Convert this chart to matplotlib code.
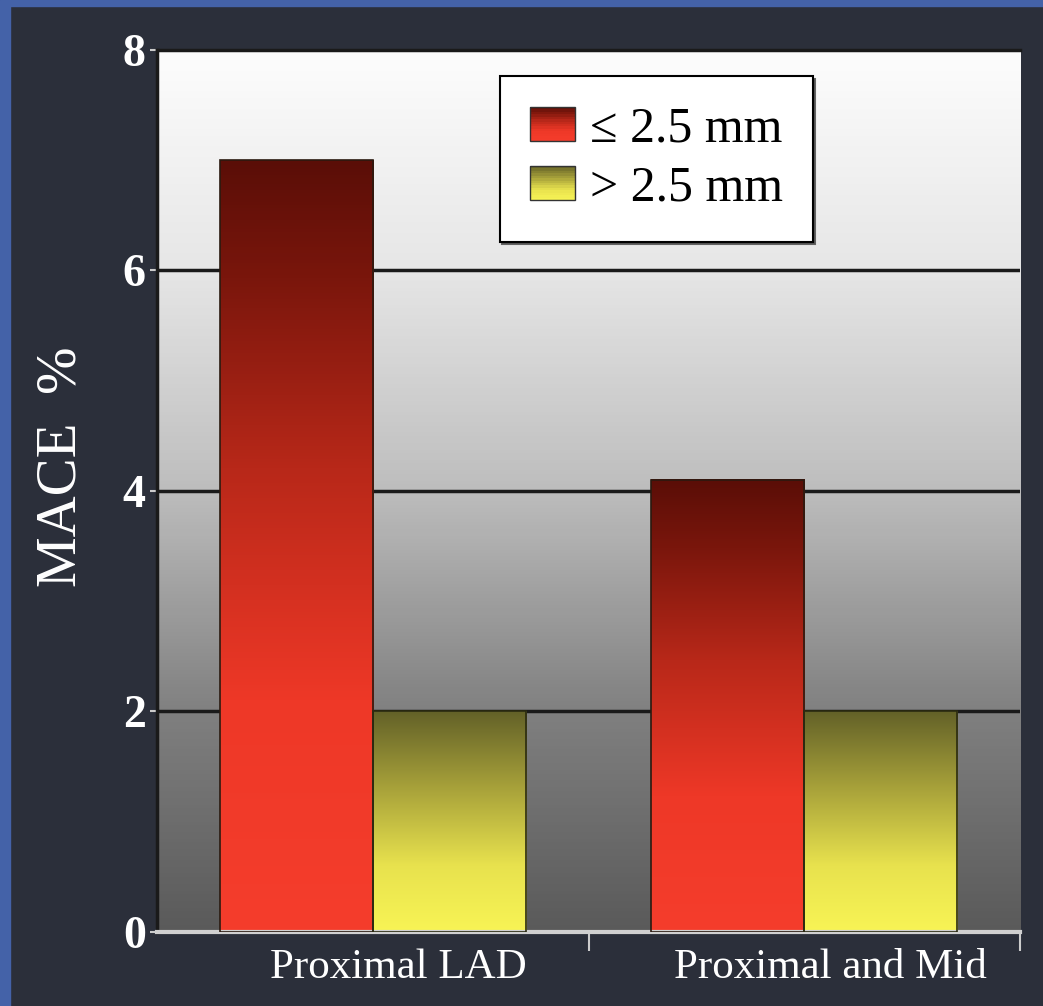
import numpy as np
import matplotlib.pyplot as plt
import matplotlib.transforms as mtransforms
from matplotlib.colors import LinearSegmentedColormap
from matplotlib.patches import Rectangle
from matplotlib.legend_handler import HandlerBase

categories = ['Proximal LAD', 'Proximal and Mid']
small_vals = [7.0, 4.1]   # <= 2.5 mm
large_vals = [2.0, 2.0]   # > 2.5 mm
series_labels = ['\u2264 2.5 mm', '> 2.5 mm']
yticks = [0, 2, 4, 6, 8]

red_cmap = LinearSegmentedColormap.from_list(
    'red', [(0, '#f53d2c'), (0.3, '#ee3827'), (0.6, '#b82819'),
            (0.85, '#7a160c'), (1, '#5a0e07')])
yel_cmap = LinearSegmentedColormap.from_list(
    'yel', [(0, '#f8f455'), (0.3, '#e8e24e'), (0.65, '#a8a23a'), (1, '#636128')])
bg_cmap = LinearSegmentedColormap.from_list(
    'bg', [(0, '#5a5a5a'), (0.25, '#808080'), (0.5, '#bdbdbd'),
           (0.75, '#e6e6e6'), (1, '#fdfdfd')])

serif = ['Liberation Serif', 'DejaVu Serif']

fig = plt.figure(figsize=(10.43, 10.06), dpi=100)
fig.patch.set_facecolor('#2b2f3a')
# blue frame strips
fig.patches.append(Rectangle((0, 0), 0.0095, 1, transform=fig.transFigure,
                             color='#4462a8', zorder=0))
fig.patches.append(Rectangle((0, 0.994), 1, 0.006, transform=fig.transFigure,
                             color='#4462a8', zorder=0))

ax = fig.add_axes([0.1505, 0.0736, 0.8275, 0.8767])
x = np.arange(len(categories))
w = 0.355

grad = np.linspace(0, 1, 256).reshape(-1, 1)
ax.imshow(grad, cmap=bg_cmap, origin='lower', aspect='auto',
          extent=[0, 1, 0, 1], transform=ax.transAxes, zorder=0)

for yv in yticks[1:-1]:
    ax.axhline(yv, color='#1a1a1a', lw=2.5, zorder=1)

b1 = ax.bar(x - w / 2, small_vals, w, facecolor='none', edgecolor='#2a1a10',
            lw=1.2, zorder=3)
b2 = ax.bar(x + w / 2, large_vals, w, facecolor='none', edgecolor='#2a2a10',
            lw=1.2, zorder=3)
for bars, cm in [(b1, red_cmap), (b2, yel_cmap)]:
    for p in bars:
        x0, h = p.get_x(), p.get_height()
        ax.imshow(grad, cmap=cm, origin='lower', aspect='auto',
                  extent=[x0, x0 + p.get_width(), 0, h], zorder=2)
ax.set_xlim(-0.5, 1.5)
ax.set_ylim(0, 8)

for s in ['top', 'left']:
    ax.spines[s].set_color('#1a1a1a')
    ax.spines[s].set_linewidth(2.5)
ax.spines['right'].set_visible(False)
ax.spines['bottom'].set_color('#d0d0d0')
ax.spines['bottom'].set_linewidth(3)

ax.set_yticks(yticks)
ax.set_yticklabels([str(v) for v in yticks], fontfamily=serif,
                   fontweight='bold', fontsize=33, color='white')
ax.tick_params(axis='y', color='#cccccc', length=5, width=1.5, pad=3)
ax.set_xticks(x)
ax.set_xticklabels(categories, fontfamily=serif, fontsize=31, color='white')
ax.set_xticks([0.5, 1.5], minor=True)
ax.tick_params(axis='x', which='major', length=0, pad=12)
ax.tick_params(axis='x', which='minor', length=14, color='#cccccc', width=1.5)
ax.set_ylabel('MACE  %', fontfamily=serif, fontsize=41, color='white')
ax.yaxis.set_label_coords(-0.081, 0.528)

# category labels sit a bit right of the bar groups, as in the slide
offset = mtransforms.ScaledTranslation(26 / 100, 0, fig.dpi_scale_trans)
for lbl in ax.get_xticklabels():
    lbl.set_transform(lbl.get_transform() + offset)


class GradHandler(HandlerBase):
    def __init__(self, cmap):
        super().__init__()
        self.cmap = cmap

    def create_artists(self, legend, orig, xd, yd, width, height, fontsize, trans):
        arts = []
        n = 14
        for i in range(n):
            c = self.cmap(1 - (i + 0.5) / n)
            arts.append(Rectangle((-xd, -yd + height - (i + 1) * height / n),
                                  width, height / n, facecolor=c,
                                  edgecolor='none', transform=trans))
        arts.append(Rectangle((-xd, -yd), width, height, facecolor='none',
                              edgecolor='#333333', lw=1, transform=trans))
        return arts


h1 = Rectangle((0, 0), 1, 1)
h2 = Rectangle((0, 0), 1, 1)
leg = ax.legend([h1, h2], series_labels, loc='upper left',
                bbox_to_anchor=(0.397, 0.9705), borderaxespad=0,
                prop={'family': serif, 'size': 36}, frameon=True,
                fancybox=False, shadow={'color': '#555555', 'alpha': 0.9},
                edgecolor='black', facecolor='white', framealpha=1,
                handlelength=0.9, handleheight=0.68, handletextpad=0.3,
                labelspacing=0.25, borderpad=0.6,
                handler_map={h1: GradHandler(red_cmap), h2: GradHandler(yel_cmap)})
leg.get_frame().set_linewidth(1.5)
leg.set_zorder(5)

fig.savefig('out.png', dpi=100, facecolor=fig.get_facecolor())
